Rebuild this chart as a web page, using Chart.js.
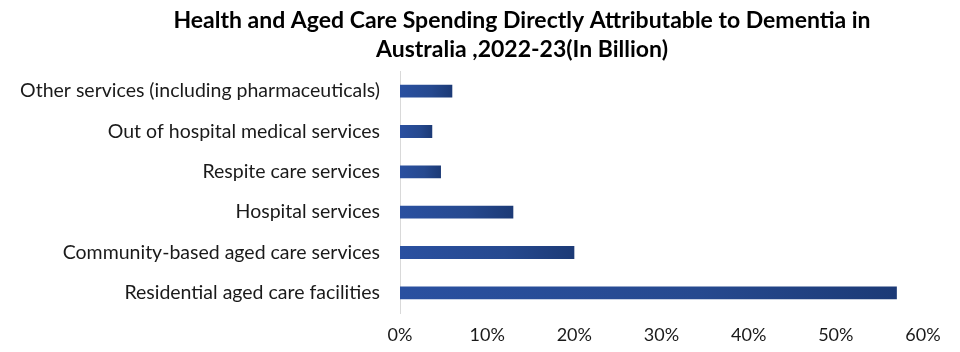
<!DOCTYPE html>
<html>
<head>
<meta charset="utf-8">
<script src="https://cdn.jsdelivr.net/npm/chart.js@4"></script>
<style>
html,body{margin:0;padding:0;background:#fff;}
#wrap{width:960px;height:352px;}
</style>
</head>
<body>
<div id="wrap"><canvas id="c" width="960" height="352"></canvas></div>
<script>
const categories = [
  "Other services (including pharmaceuticals)",
  "Out of hospital medical services",
  "Respite care services",
  "Hospital services",
  "Community-based aged care services",
  "Residential aged care facilities"
];
const shares = [6, 3.7, 4.7, 13, 20, 57];
const titleLines = [
  "Health and Aged Care Spending Directly Attributable to Dementia in",
  "Australia ,2022-23(In Billion)"
];
const FONT = "Lato, 'Open Sans', sans-serif";

const shiftTitle = {
  id: 'shiftTitle',
  afterLayout(chart) {
    const t = chart.titleBlock;
    if (t) { t.left = 104; t.right = 940; }
  }
};

new Chart(document.getElementById('c'), {
  type: 'bar',
  data: {
    labels: categories,
    datasets: [{
      data: shares,
      barPercentage: 0.32,
      categoryPercentage: 1,
      backgroundColor(ctx) {
        const chart = ctx.chart;
        const xs = chart.scales.x;
        if (!xs || ctx.parsed == null) return '#24478c';
        const x0 = xs.getPixelForValue(0);
        const x1 = xs.getPixelForValue(ctx.parsed.x);
        if (!isFinite(x0) || !isFinite(x1) || x1 <= x0) return '#24478c';
        const g = chart.ctx.createLinearGradient(x0, 0, x1, 0);
        g.addColorStop(0, '#2a50a0');
        g.addColorStop(0.6, '#26498f');
        g.addColorStop(1, '#1c3a76');
        return g;
      },
      borderWidth: 0
    }]
  },
  options: {
    indexAxis: 'y',
    responsive: false,
    animation: false,
    layout: { padding: { left: 0, right: 37, top: 0, bottom: 0 } },
    plugins: {
      legend: { display: false },
      tooltip: { enabled: false },
      title: {
        display: true,
        text: titleLines,
        color: '#000',
        font: { family: FONT, size: 23, weight: 'bold', lineHeight: 1.25 },
        padding: { top: 6, bottom: 7.5 }
      }
    },
    scales: {
      x: {
        min: 0, max: 60,
        ticks: {
          stepSize: 10,
          callback: v => v + '%',
          color: '#1a1a1a',
          font: { family: FONT, size: 18 },
          padding: 11,
          maxRotation: 0
        },
        grid: { display: false, drawTicks: false },
        border: { display: false },
        afterFit(scale) { scale.height = 39; }
      },
      y: {
        ticks: {
          color: '#1a1a1a',
          font: { family: FONT, size: 19.5 },
          padding: 20,
          autoSkip: false
        },
        grid: { display: false, drawTicks: false },
        border: { display: true, color: '#d9d9d9', width: 1 },
        afterFit(scale) { scale.width = 400; }
      }
    }
  },
  plugins: [shiftTitle]
});
</script>
</body>
</html>
